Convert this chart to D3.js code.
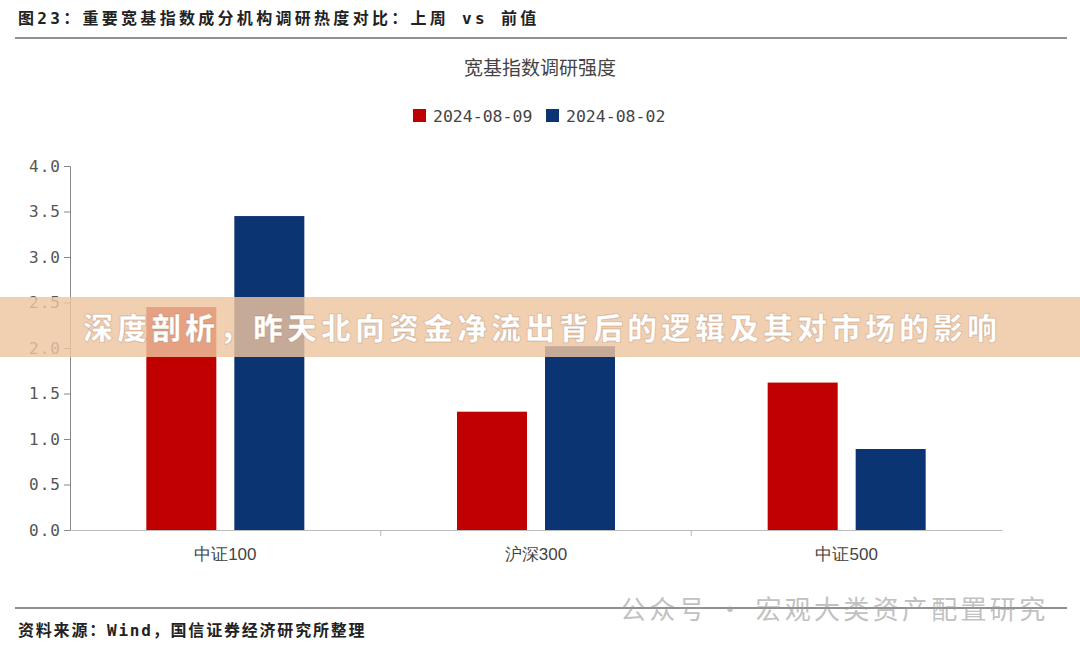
<!DOCTYPE html><html><head><meta charset="utf-8">
<script src="https://cdn.jsdelivr.net/npm/d3@7"></script>
<style>body{margin:0;background:#fff}svg{display:block;font-family:"Noto Sans CJK SC","Noto Sans",sans-serif}</style></head><body>
<svg id="c" width="1080" height="654"></svg>
<script>
const categories=["中证100","沪深300","中证500"];
const seriesNames=["2024-08-09","2024-08-02"];
const series0=[2.45,1.30,1.62];
const series1=[3.45,2.02,0.89];
const yTicks=[0,0.5,1,1.5,2,2.5,3,3.5,4];
const colors=["#C00000","#0B3572"];
const mono="'DejaVu Sans Mono','Noto Sans CJK SC',monospace";
const svg=d3.select("#c");
svg.append("text").attr("x",18).attr("y",24).attr("font-size",16).attr("font-weight","bold").attr("fill","#222").attr("font-family",mono).attr("letter-spacing",3.3).text("图23：重要宽基指数成分机构调研热度对比：上周 vs 前值");
svg.append("line").attr("x1",15).attr("x2",1067).attr("y1",38).attr("y2",38).attr("stroke","#222").attr("stroke-width",1.2);
svg.append("text").attr("x",540).attr("y",75).attr("text-anchor","middle").attr("font-size",19).attr("fill","#444").text("宽基指数调研强度");
const lg=svg.append("g");
const lx=[413,546];
seriesNames.forEach((n,i)=>{lg.append("rect").attr("x",lx[i]).attr("y",109).attr("width",13).attr("height",13).attr("fill",colors[i]);
lg.append("text").attr("x",lx[i]+20).attr("y",122).attr("font-size",16.5).attr("fill","#444").attr("font-family",mono).text(n);});
const x=d3.scaleBand().domain(categories).range([70,1002]);
const y=d3.scaleLinear().domain([0,4]).range([530,166]);
const ax=svg.append("g").attr("transform","translate(70,0)").call(d3.axisLeft(y).tickValues(yTicks).tickFormat(d3.format(".1f")).tickSize(6));
ax.selectAll("text").attr("font-size",16).attr("fill","#555").attr("font-family",mono).attr("letter-spacing",1);
ax.selectAll("line,path").attr("stroke","#888");
const bx=svg.append("g").attr("transform","translate(0,530)").call(d3.axisBottom(x).tickSize(0).tickPadding(18));
bx.selectAll("text").attr("font-size",17).attr("fill","#444");
bx.selectAll("path").attr("stroke","#bbb");
svg.append("g").selectAll("line").data(categories.slice(1)).join("line").attr("x1",d=>x(d)).attr("x2",d=>x(d)).attr("y1",530).attr("y2",536).attr("stroke","#bbb");
const bw=70;
[series0,series1].forEach((s,si)=>{svg.append("g").selectAll("rect").data(s).join("rect")
.attr("x",(d,i)=>x(categories[i])+x.bandwidth()/2+(si===0?-bw-9:9)).attr("width",bw)
.attr("y",d=>y(d)).attr("height",d=>530-y(d)).attr("fill",colors[si]);});
svg.append("line").attr("x1",15).attr("x2",1067).attr("y1",608).attr("y2",608).attr("stroke","#222").attr("stroke-width",1.2);
svg.append("text").attr("x",18).attr("y",636).attr("font-size",16).attr("fill","#222").attr("font-weight","bold").attr("font-family",mono).attr("letter-spacing",1.8).text("资料来源：Wind，国信证券经济研究所整理");
svg.append("text").attr("x",620).attr("y",619).attr("font-size",26).attr("fill","#999").attr("opacity",0.6).attr("letter-spacing",3.3).text("公众号 · 宏观大类资产配置研究");
svg.append("rect").attr("x",0).attr("y",297).attr("width",1080).attr("height",60).attr("fill","rgba(238,196,160,0.82)");
svg.append("text").attr("x",83).attr("y",339).attr("font-size",30).attr("font-weight",900).attr("fill","#fff").attr("letter-spacing",4).attr("stroke","rgba(150,100,60,0.3)").attr("stroke-width",1).text("深度剖析，昨天北向资金净流出背后的逻辑及其对市场的影响");
</script></body></html>
